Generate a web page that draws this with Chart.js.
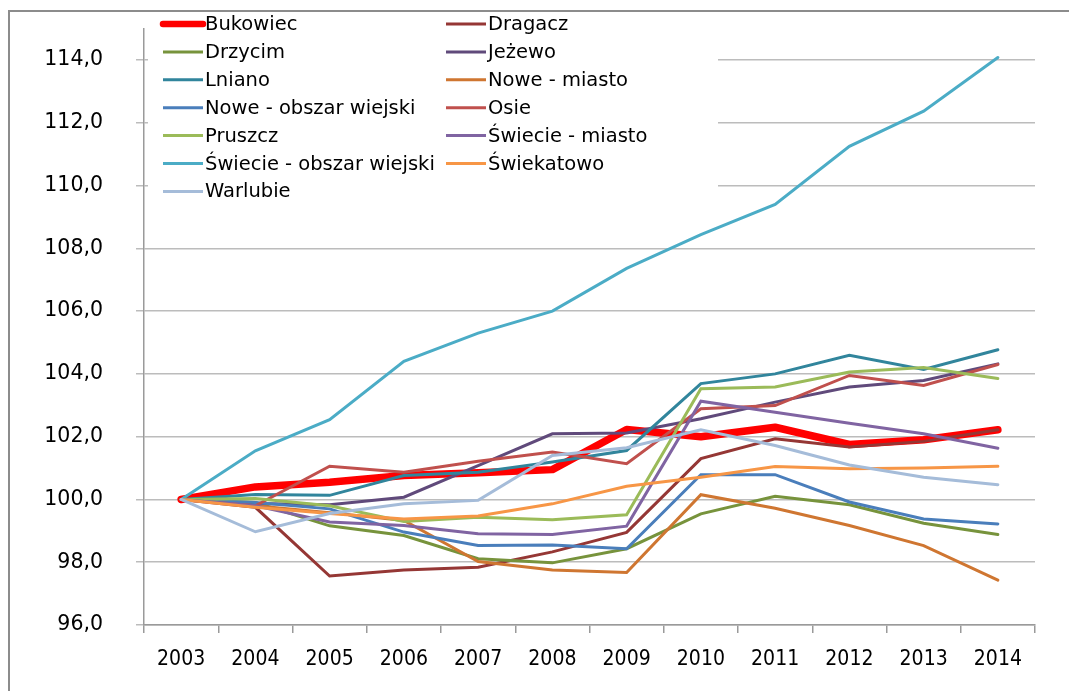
<!DOCTYPE html>
<html lang="pl">
<head>
<meta charset="UTF-8">
<title>Bukowiec i gminy powiatu</title>
<script src="https://cdn.jsdelivr.net/npm/chart.js@4.4.1/dist/chart.umd.min.js"></script>
<style>
  html, body { margin: 0; padding: 0; background: #fff; overflow: hidden; }
  #wrap { position: relative; width: 1069px; height: 691px; }
</style>
</head>
<body>
<div id="wrap"><canvas id="chart" width="1069" height="691"></canvas></div>
<script>
const years = ['2003', '2004', '2005', '2006', '2007', '2008', '2009', '2010', '2011', '2012', '2013', '2014'];

const bukowiec      = [100, 100.40, 100.55, 100.76, 100.85, 100.95, 102.23, 102.00, 102.30, 101.75, 101.90, 102.22];
const dragacz       = [100, 99.75, 97.56, 97.75, 97.84, 98.33, 98.95, 101.30, 101.93, 101.67, 101.85, 102.22];
const drzycim       = [100, 99.90, 99.16, 98.85, 98.11, 97.98, 98.43, 99.54, 100.10, 99.83, 99.24, 98.88];
const jezewo        = [100, 99.87, 99.83, 100.07, 101.08, 102.09, 102.12, 102.57, 103.10, 103.58, 103.79, 104.32];
const lniano        = [100, 100.16, 100.13, 100.76, 100.87, 101.19, 101.56, 103.69, 104.00, 104.59, 104.14, 104.77];
const noweMiasto    = [100, 99.80, 99.58, 99.33, 98.02, 97.75, 97.67, 100.15, 99.72, 99.17, 98.53, 97.43];
const noweObszar    = [100, 99.90, 99.70, 98.96, 98.53, 98.55, 98.43, 100.79, 100.79, 99.92, 99.38, 99.22];
const osie          = [100, 99.80, 101.06, 100.87, 101.22, 101.51, 101.14, 102.89, 102.99, 103.95, 103.63, 104.30];
const pruszcz       = [100, 100.03, 99.80, 99.30, 99.43, 99.35, 99.51, 103.53, 103.58, 104.06, 104.20, 103.85];
const swiecieMiasto = [100, 99.80, 99.28, 99.17, 98.91, 98.88, 99.15, 103.13, 102.78, 102.43, 102.09, 101.63];
const swiecieObszar = [100, 101.55, 102.54, 104.40, 105.30, 106.00, 107.36, 108.44, 109.40, 111.25, 112.37, 114.08];
const swiekatowo    = [100, 99.75, 99.55, 99.38, 99.47, 99.86, 100.42, 100.71, 101.05, 100.98, 101.00, 101.06];
const warlubie      = [100, 98.97, 99.55, 99.86, 99.97, 101.40, 101.65, 102.22, 101.72, 101.10, 100.71, 100.47];

const series = [
  ['Bukowiec', bukowiec, '#ff0000', 7.5],
  ['Dragacz', dragacz, '#953735', 3],
  ['Drzycim', drzycim, '#77933c', 3],
  ['Jeżewo', jezewo, '#604a7b', 3],
  ['Lniano', lniano, '#31859c', 3],
  ['Nowe - miasto', noweMiasto, '#cf7631', 3],
  ['Nowe - obszar wiejski', noweObszar, '#4a7ebb', 3],
  ['Osie', osie, '#c0504d', 3],
  ['Pruszcz', pruszcz, '#9bbb59', 3],
  ['Świecie - miasto', swiecieMiasto, '#8064a2', 3],
  ['Świecie - obszar wiejski', swiecieObszar, '#4bacc6', 3],
  ['Świekatowo', swiekatowo, '#f79646', 3],
  ['Warlubie', warlubie, '#a5bcd9', 3]
];

// frame around the picture (only top and left edges are visible)
const framePlugin = {
  id: 'frame',
  beforeDraw(chart) {
    const c = chart.ctx;
    c.save();
    c.fillStyle = '#fff';
    c.fillRect(0, 0, chart.width, chart.height);
    c.strokeStyle = '#8c8c8c';
    c.lineWidth = 2;
    c.strokeRect(9, 11, chart.width + 20, chart.height + 20);
    c.restore();
  }
};

// two-column legend box sitting over the top left of the plot
const legendBox = {
  id: 'legendBox',
  afterDraw(chart) {
    const c = chart.ctx;
    c.save();
    c.fillStyle = '#fff';
    c.fillRect(148, 13, 570, 193);
    c.font = '19.5px "DejaVu Sans"';
    c.textBaseline = 'middle';
    c.fillStyle = '#000';
    chart.data.datasets.forEach((ds, i) => {
      const col = i % 2, row = Math.floor(i / 2);
      const x = col === 0 ? 163 : 446;
      const y = 24 + row * 27.9;
      c.beginPath();
      c.strokeStyle = ds.borderColor;
      c.lineWidth = i === 0 ? 6.5 : 3;
      c.lineCap = i === 0 ? 'round' : 'butt';
      c.moveTo(x, y);
      c.lineTo(x + 40, y);
      c.stroke();
      c.fillText(ds.label, x + 42, y + 1);
    });
    c.restore();
  }
};

new Chart(document.getElementById('chart'), {
  type: 'line',
  data: {
    labels: years,
    datasets: series.map((s, i) => ({
      label: s[0],
      data: s[1],
      borderColor: s[2],
      backgroundColor: s[2],
      borderWidth: s[3],
      borderCapStyle: 'round',
      borderJoinStyle: i === 0 ? 'round' : 'miter',
      pointRadius: 0,
      tension: 0,
      order: series.length - i
    }))
  },
  options: {
    responsive: false,
    animation: false,
    events: [],
    layout: { padding: { top: 28.6, right: 34, left: 0, bottom: 0 } },
    plugins: { legend: { display: false }, tooltip: { enabled: false } },
    scales: {
      x: {
        offset: true,
        grid: { offset: true, drawOnChartArea: false, tickLength: 8, color: '#9a9a9a', lineWidth: 1.5 },
        border: { color: '#9a9a9a', width: 1.5 },
        ticks: { color: '#000', padding: 14, font: { family: '"DejaVu Sans Condensed", "DejaVu Sans"', size: 21 }, maxRotation: 0 },
        afterFit(scale) { scale.height = 66; }
      },
      y: {
        min: 96,
        max: 115,
        grid: { color: '#bcbcbc', lineWidth: 1.5, tickLength: 8 },
        border: { color: '#9a9a9a', width: 1.5 },
        ticks: {
          stepSize: 2,
          color: '#000',
          padding: 33,
          font: { family: '"DejaVu Sans"', size: 20.5 },
          callback: v => v.toFixed(1).replace('.', ',')
        },
        afterBuildTicks(scale) { scale.ticks = scale.ticks.filter(t => t.value <= 114); },
        afterFit(scale) {
          scale.width = 144;
          scale.paddingTop = 0;
          scale.paddingBottom = 0;
        }
      }
    }
  },
  plugins: [framePlugin, legendBox]
});
</script>
</body>
</html>
